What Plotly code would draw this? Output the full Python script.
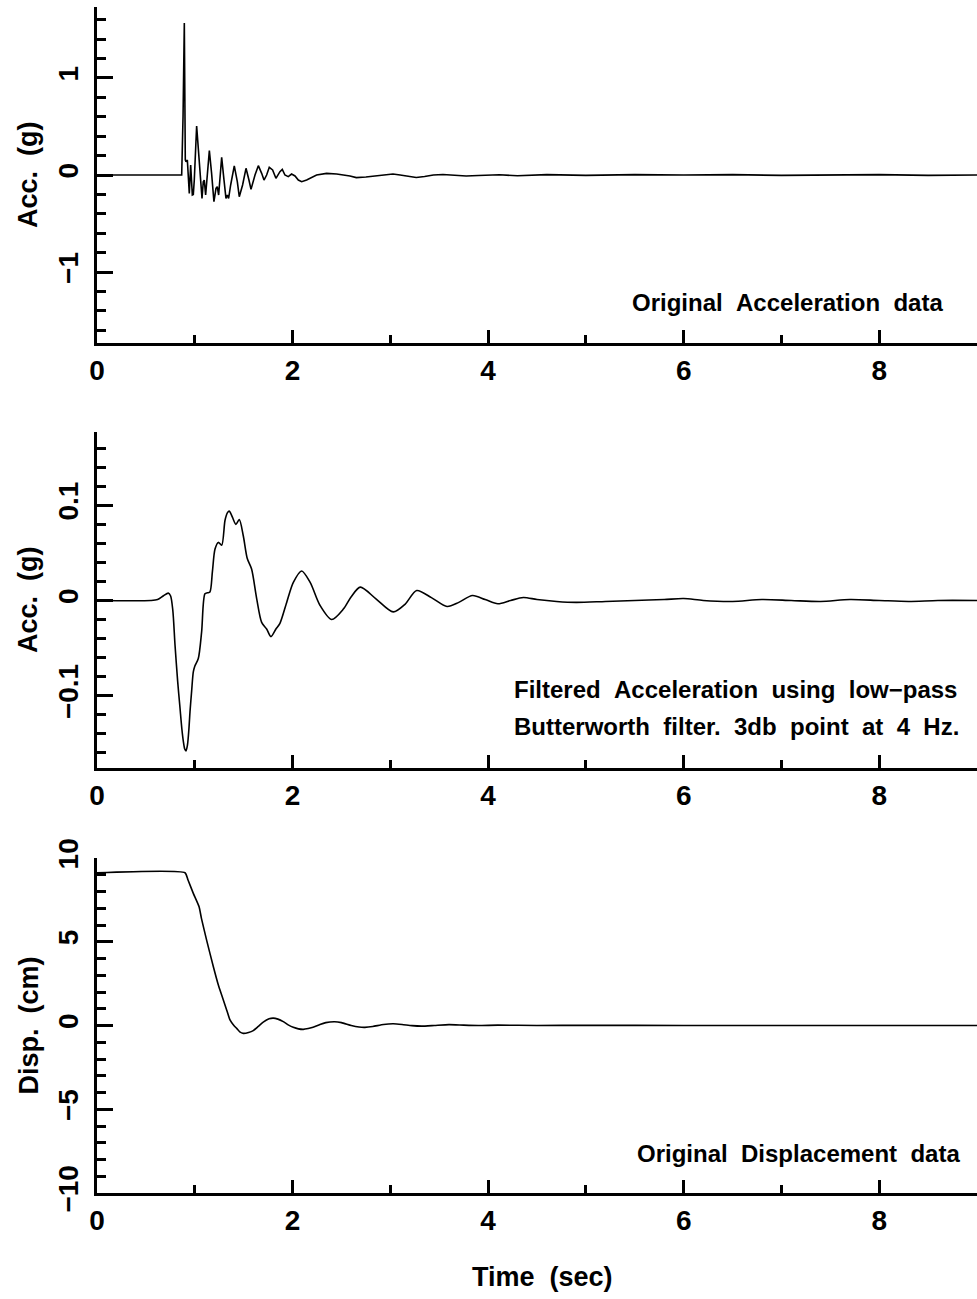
import plotly.graph_objects as go

# ---------------- data ----------------
t_acc = [0, 0.855, 0.866, 0.880, 0.893, 0.903, 0.910, 0.924, 0.937, 0.944, 0.958, 0.975, 0.985,
         0.995, 1.019, 1.043, 1.060, 1.074, 1.087, 1.097, 1.111, 1.128, 1.149, 1.172, 1.196,
         1.217, 1.230, 1.244, 1.258, 1.275, 1.299, 1.319, 1.333, 1.346, 1.367, 1.404, 1.435,
         1.455, 1.489, 1.524, 1.554, 1.575, 1.616, 1.650, 1.684, 1.708, 1.735, 1.762, 1.796,
         1.830, 1.871, 1.895, 1.922, 1.956, 1.990, 2.025, 2.059, 2.093, 2.144, 2.178, 2.246,
         2.348, 2.451, 2.587, 2.652, 2.75, 2.85, 2.95, 3.027, 3.10, 3.18, 3.265, 3.35, 3.44,
         3.538, 3.65, 3.776, 3.9, 4.0, 4.116, 4.3, 4.6, 5.0, 5.5, 6.0, 6.5, 7.0, 7.5, 8.0, 8.5, 9.0]
acc_orig = [0, 0, 0.0, 0.6, 1.564, 0.155, 0.137, 0.155, -0.189, -0.189, 0.103, -0.206, -0.20,
            -0.052, 0.505, 0.155, -0.120, -0.241, -0.069, -0.052, -0.206, 0.017, 0.251, 0.017, -0.275,
            -0.137, -0.120, -0.206, 0.017, 0.182, -0.052, -0.241, -0.206, -0.241, -0.103, 0.093, -0.069,
            -0.223, -0.103, 0.069, -0.052, -0.148, 0.0, 0.096, 0.017, -0.052, 0.0, 0.079, 0.052,
            -0.034, 0.034, 0.058, 0.0, -0.017, 0.010, -0.010, -0.052, -0.069, -0.052, -0.034, 0.0,
            0.017, 0.010, -0.010, -0.027, -0.02, -0.01, 0.0, 0.010, 0.0, -0.015, -0.025, -0.015, 0.0,
            0.005, -0.005, -0.01, -0.005, 0.0, 0.003, -0.008, 0.004, -0.004, 0.004, 0.0, 0.004, -0.004, 0.0, 0.004, -0.004, 0.0]

t_filt = [0, 0.55, 0.62, 0.68, 0.729, 0.752, 0.775, 0.798, 0.825, 0.849, 0.868, 0.883, 0.897, 0.910,
          0.925, 0.940, 0.951, 0.968, 0.985, 1.00, 1.036, 1.07, 1.104, 1.13, 1.155, 1.18, 1.207,
          1.241, 1.275, 1.309, 1.333, 1.353, 1.370, 1.387, 1.421, 1.455, 1.496, 1.537, 1.581, 1.633,
          1.684, 1.735, 1.779, 1.830, 1.871, 1.94, 2.008, 2.093, 2.18, 2.28, 2.40, 2.52, 2.60,
          2.693, 2.85, 3.03, 3.15, 3.27, 3.42, 3.58, 3.70, 3.84, 3.97, 4.10, 4.23, 4.36, 4.5,
          4.7, 4.9, 5.2, 5.5, 5.8, 6.0, 6.2, 6.5, 6.8, 7.1, 7.4, 7.7, 8.0, 8.3, 8.6, 9.0]
acc_filt = [0, 0, 0.001, 0.005, 0.0077, 0.005, -0.01, -0.047, -0.085, -0.113, -0.135, -0.148, -0.156, -0.158,
            -0.152, -0.135, -0.117, -0.095, -0.075, -0.069, -0.061, -0.033, 0.007, 0.008, 0.009, 0.030, 0.054,
            0.061, 0.058, 0.084, 0.092, 0.094, 0.091, 0.087, 0.080, 0.085, 0.068, 0.044, 0.033, 0.002,
            -0.023, -0.030, -0.038, -0.030, -0.024, -0.002, 0.019, 0.031, 0.019, -0.005, -0.020, -0.009, 0.004,
            0.014, 0.002, -0.012, -0.004, 0.0105, 0.003, -0.0063, -0.002, 0.0052, 0.001, -0.0035, 0.0, 0.0031, 0.001,
            -0.001, -0.002, -0.001, 0.0, 0.001, 0.002, 0.0, -0.001, 0.001, 0.0, -0.001, 0.001, 0.0, -0.001, 0.0, 0.0]

t_disp = [0, 0.90, 0.93, 0.985, 1.044, 1.068, 1.121, 1.19, 1.241, 1.275, 1.326, 1.36, 1.40, 1.428,
          1.46, 1.496, 1.55, 1.598, 1.65, 1.70, 1.76, 1.803, 1.85, 1.905, 1.96, 2.007, 2.06, 2.11,
          2.16, 2.21, 2.28, 2.34, 2.43, 2.50, 2.60, 2.68, 2.74, 2.82, 2.93, 3.03, 3.12, 3.22,
          3.32, 3.45, 3.60, 3.75, 3.90, 4.1, 4.5, 5.0, 6.0, 7.0, 8.0, 9.0]
disp = [9.12, 9.12, 8.7, 7.89, 7.09, 6.4, 5.1, 3.51, 2.42, 1.82, 0.93, 0.33, 0.0, -0.17,
        -0.38, -0.47, -0.42, -0.31, -0.05, 0.2, 0.40, 0.44, 0.38, 0.23, 0.02, -0.11, -0.2, -0.23,
        -0.18, -0.11, 0.06, 0.17, 0.22, 0.17, 0.0, -0.09, -0.11, -0.06, 0.06, 0.10, 0.06, -0.01,
        -0.04, 0.0, 0.05, 0.02, 0.0, 0.02, 0.0, 0.01, 0.0, 0.0, 0.0, 0.0]

panel_labels = ["Original\u00a0\u00a0Acceleration\u00a0\u00a0data",
                "Filtered\u00a0\u00a0Acceleration\u00a0\u00a0using\u00a0\u00a0low\u2212pass",
                "Butterworth\u00a0\u00a0filter.\u00a0\u00a03db\u00a0\u00a0point\u00a0\u00a0at\u00a0\u00a04\u00a0\u00a0Hz.",
                "Original\u00a0\u00a0Displacement\u00a0\u00a0data"]
y_titles = ["Acc.\u00a0\u00a0(g)", "Acc.\u00a0\u00a0(g)", "Disp.\u00a0\u00a0(cm)"]
x_title = "Time\u00a0\u00a0(sec)"

# ---------------- layout helpers ----------------
W, H = 977, 1299
L = 97
FONT = "Liberation Sans, Arial, sans-serif"


def px_x(px):
    return (px - L) / (W - L)


def px_y(py):
    return 1 - py / H


fig = go.Figure()
fig.add_trace(go.Scatter(x=t_acc, y=acc_orig, mode="lines", line=dict(color="black", width=1.6),
                         xaxis="x", yaxis="y", showlegend=False))
fig.add_trace(go.Scatter(x=t_filt, y=acc_filt, mode="lines", line=dict(color="black", width=1.6, shape="spline", smoothing=0.8),
                         xaxis="x2", yaxis="y2", showlegend=False))
fig.add_trace(go.Scatter(x=t_disp, y=disp, mode="lines", line=dict(color="black", width=1.6, shape="spline", smoothing=0.5),
                         xaxis="x3", yaxis="y3", showlegend=False))

tickfont = dict(family=FONT, size=28, color="black", weight="bold")

xcommon = dict(range=[0, 9], showline=True, linewidth=3, linecolor="black", ticks="inside",
               ticklen=13, tickwidth=3, tickcolor="black", tick0=0, dtick=2,
               minor=dict(ticks="inside", ticklen=8, tickwidth=3, tickcolor="black", dtick=1, tick0=0, showgrid=False),
               showgrid=False, zeroline=False, tickfont=tickfont, ticklabelstandoff=0, automargin=False)
ycommon = dict(showline=True, linewidth=3, linecolor="black", ticks="inside", ticklen=16, tickwidth=3,
               tickcolor="black", showgrid=False, zeroline=False, tickfont=tickfont, tickangle=-90,
               ticklabelstandoff=5, automargin=False)

domains = [(7, 343), (432, 768), (858, 1193)]
yranges = [[-1.73, 1.73], [-0.176, 0.177], [-10, 10]]
ydticks = [1, 0.1, 5]
yminor = [0.2, 0.02, 1]

for i in range(3):
    sfx = "" if i == 0 else str(i + 1)
    top, bot = domains[i]
    fig.update_layout(**{
        "xaxis" + sfx: dict(xcommon, domain=[0, 1], anchor="y" + sfx),
        "yaxis" + sfx: dict(ycommon, domain=[px_y(bot), px_y(top)], anchor="x" + sfx,
                            range=yranges[i], tick0=0, dtick=ydticks[i],
                            minor=dict(ticks="inside", ticklen=9, tickwidth=3, tickcolor="black",
                                       dtick=yminor[i], tick0=0, showgrid=False)),
    })

annfont = dict(family=FONT, size=24, color="black", weight="bold")
titlefont = dict(family=FONT, size=27, color="black", weight="bold")
annotations = [
    dict(text=panel_labels[0], x=px_x(945), y=px_y(303), xanchor="right", yanchor="middle", font=annfont),
    dict(text=panel_labels[1], x=px_x(512), y=px_y(690), xanchor="left", yanchor="middle", font=annfont),
    dict(text=panel_labels[2], x=px_x(512), y=px_y(727), xanchor="left", yanchor="middle", font=annfont),
    dict(text=panel_labels[3], x=px_x(962), y=px_y(1153), xanchor="right", yanchor="middle", font=annfont),
    dict(text=x_title, x=px_x(542), y=px_y(1277), xanchor="center", yanchor="middle", font=titlefont),
]
for i, (top, bot) in enumerate(domains):
    annotations.append(dict(text=y_titles[i], x=px_x(28), y=px_y((top + bot) / 2), textangle=-90,
                            xanchor="center", yanchor="middle", font=titlefont))
for a in annotations:
    a.update(xref="paper", yref="paper", showarrow=False)

fig.update_layout(width=W, height=H, margin=dict(l=L, r=0, t=0, b=0, autoexpand=False),
                  paper_bgcolor="white", plot_bgcolor="white", annotations=annotations,
                  font=dict(family=FONT, color="black"))

fig.write_html("out.html")
